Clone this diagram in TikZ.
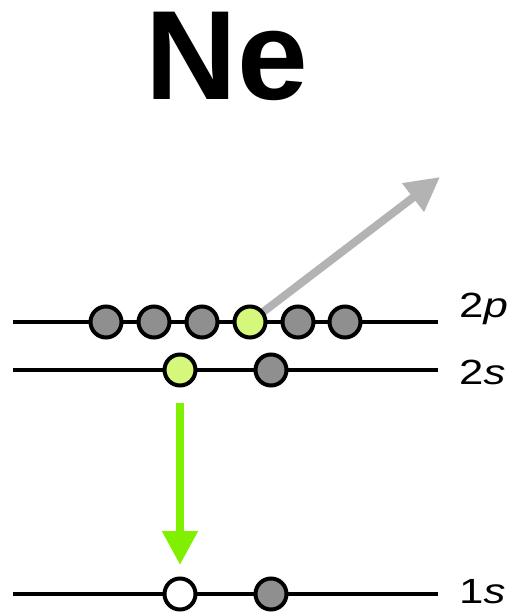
\documentclass[tikz,border=0pt]{standalone}
\usepackage{fontspec}
\usepackage{graphicx}
\setmainfont{Liberation Sans}
\usetikzlibrary{arrows.meta}
\pgfdeclarelayer{bg}
\pgfsetlayers{bg,main}
\definecolor{elgray}{RGB}{143,143,143}
\definecolor{elgreen}{RGB}{213,247,123}
\definecolor{arrgray}{RGB}{179,179,179}
\definecolor{arrgreen}{RGB}{128,240,0}
\newcommand{\widelabel}[1]{\scalebox{1.25}[1]{#1}}
\tikzset{
  level/.style={line width=4pt},
  electron/.style={circle, draw=black, line width=4pt, minimum size=31pt, inner sep=0pt, fill=elgray},
  excited/.style={electron, fill=elgreen},
  hole/.style={electron, fill=white},
  lbl/.style={anchor=base west, inner sep=0pt, font=\fontsize{35}{35}\selectfont},
  bigarrow/.style={line width=8pt, -{Triangle[width=34pt,length=34pt]}},
}
\begin{document}
\begin{tikzpicture}[x=1pt,y=-1pt]
\useasboundingbox (0,0) rectangle (510,615);

% element symbol
\node[anchor=base, inner sep=0pt, font=\fontsize{127}{127}\selectfont\bfseries] (title) at (226.5,100) {Ne};

% energy levels
\draw[level] (13,322) coordinate (p2l) -- (438,322) coordinate (p2r);
\draw[level] (13,370) coordinate (s2l) -- (438,370) coordinate (s2r);
\draw[level] (13,594) coordinate (s1l) -- (438,594) coordinate (s1r);

% 2p shell
\node[electron] (p1) at (106,322) {};
\node[electron] (p2) at (154,322) {};
\node[electron] (p3) at (202,322) {};
\node[excited]  (p4) at (250,322) {};
\node[electron] (p5) at (298,322) {};
\node[electron] (p6) at (345,322) {};

% 2s shell
\node[excited]  (sa) at (180,370) {};
\node[electron] (sb) at (271,370) {};

% 1s shell
\node[hole]     (ka) at (180,594) {};
\node[electron] (kb) at (271,594) {};

% level labels
\node[lbl] (lp) at (459,317) {\widelabel{2\textit{p}}};
\node[lbl] (ls) at (459,384) {\widelabel{2\textit{s}}};
\node[lbl] (lk) at (459,603) {\widelabel{1\textit{s}}};

% emitted electron and relaxation
\coordinate (out) at (440,177);
\begin{pgfonlayer}{bg}
\draw[bigarrow, arrgray] (p4.center) -- (out);
\end{pgfonlayer}
\draw[bigarrow, arrgreen, shorten <=15.5pt, shorten >=11.5pt] (sa.south) -- (ka.north);
\end{tikzpicture}
\end{document}
